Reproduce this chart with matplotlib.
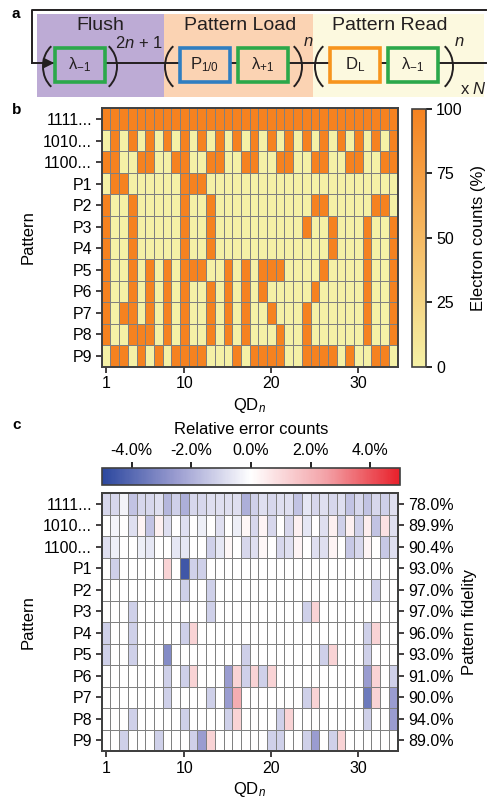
import numpy as np
import matplotlib
matplotlib.use('Agg')
import matplotlib.pyplot as plt
from matplotlib.colors import LinearSegmentedColormap
from matplotlib.patches import Rectangle, Arc

plt.rcParams['font.family'] = ['Liberation Sans', 'DejaVu Sans']
plt.rcParams['mathtext.fontset'] = 'custom'
plt.rcParams['mathtext.rm'] = 'Liberation Sans'
plt.rcParams['mathtext.it'] = 'Liberation Sans:italic'
plt.rcParams['font.size'] = 10

# ---- data ----
row_labels = ['1111...', '1010...', '1100...', 'P1', 'P2', 'P3', 'P4', 'P5', 'P6', 'P7', 'P8', 'P9']
qd_ticks = [1, 10, 20, 30]

# read-out patterns (1 = orange / electron, 0 = yellow), QD1..QD34
patterns = [
    "1111111111111111111111111111111111",
    "0101010101010101010101010101010101",
    "1100110011001100110011001100110011",
    "0110000001" "1100000000" "0000000000" "0000",
    "1001000001" "0010000000" "0000110000" "0110",
    "1001000001" "0010000000" "0001001000" "1001",
    "1001000001" "0010000000" "0000001000" "1001",
    "1001010101" "1100101011" "1000010000" "1001",
    "1001010101" "0010101010" "0000100000" "1001",
    "1011010101" "0010101001" "0001000000" "1001",
    "1001110101" "0010101000" "1001000000" "1001",
    "0110101011" "1100010111" "1001111010" "0110",
]

# relative error counts (%) per pattern; for P1..P9 only the non-zero QDs listed
err_1111 = [-1.0, -1.0, -0.3, -1.5, -1.0, -1.0, -0.8, -1.8, -1.2, -2.0, -1.0, -1.0, -0.8, -0.8, -0.8, -0.8, -2.0,
            -1.2, -0.8, -1.0, -0.8, -0.8, -1.5, -0.6, -1.0, -0.8, -1.0, -0.8, -1.5, -1.0, -1.5, -1.0, -1.2, -0.8]
err_1010 = [0.0, -0.3, 0.0, -0.8, 0.3, -1.5, 0.4, -0.8, 0.0, -0.8, 0.0, -0.4, 0.0, -0.8, 0.0, -0.4, 0.2,
            -1.0, 0.3, -1.0, 0.0, -1.0, 0.4, -0.6, 0.0, -0.8, 0.4, -1.2, 0.4, -1.2, 0.5, -1.5, 0.8, -0.8]
err_1100 = [-0.8, -0.4, 0.0, 0.0, -0.4, -0.6, 0.0, 0.0, -0.6, -0.6, 0.0, 0.0, -1.2, -0.6, 0.2, 0.0, -1.0,
            -0.8, 0.2, 0.0, -1.0, -0.8, 0.3, 0.0, -0.8, -0.8, 0.3, 0.0, -1.4, -1.0, 0.3, 0.0, -1.4, -0.8]
err_P = [
    {2: -1.2, 8: 1.2, 10: -4.5, 11: -1.2, 12: -1.2},
    {10: -1.2, 13: -1.2, 32: -1.2},
    {4: -1.2, 13: -1.2, 24: -1.2, 25: 1.2},
    {1: -1.2, 4: -1.2, 10: -1.2, 11: 1.2, 31: -1.2, 32: 1.2},
    {1: -1.2, 4: -1.2, 8: -3.0, 17: -1.2, 26: -1.2, 27: 1.2, 31: -1.2},
    {8: -1.2, 10: -1.2, 11: 1.2, 15: -2.5, 16: 1.2, 17: -1.2, 18: 1.2, 19: -1.2, 20: 1.2, 31: -2.5, 32: 1.2, 34: -1.2},
    {8: -1.2, 13: -1.2, 15: -2.5, 16: 2.2, 24: -1.2, 25: 1.2, 31: -3.5, 32: 1.2, 34: -2.5},
    {4: -1.2, 10: -1.2, 15: -1.2, 16: 1.2, 21: -1.2, 22: 1.2, 31: -1.2, 34: -2.5},
    {3: -1.2, 7: -1.2, 11: -1.2, 12: -2.5, 13: 1.2, 20: -1.2, 21: -1.2, 24: -1.2, 25: -2.5, 27: -1.2, 28: 1.2},
]
fidelity = ['78.0%', '89.9%', '90.4%', '93.0%', '97.0%', '97.0%', '96.0%', '93.0%', '91.0%', '90.0%', '94.0%', '89.0%']

# ---- arrays ----
n_qd = len(patterns[0])
counts = np.array([[100.0 if c == '1' else 0.0 for c in p] for p in patterns])
errors = np.zeros((len(patterns), n_qd))
errors[0] = err_1111
errors[1] = err_1010
errors[2] = err_1100
for i, d in enumerate(err_P):
    for q, v in d.items():
        errors[3 + i, q - 1] = v

W, H = 487, 800
fig = plt.figure(figsize=(W / 100, H / 100), dpi=100)


def box(x0, y0, x1, y1):
    # pixel box -> figure fraction
    return [x0 / W, 1 - y1 / H, (x1 - x0) / W, (y1 - y0) / H]


# ---------------- panel a : schematic ----------------
axa = fig.add_axes([0, 1 - 100 / H, 1, 100 / H])
axa.set_xlim(0, W)
axa.set_ylim(100, 0)
axa.axis('off')

lc = '#231f20'
regions = [(37, 164, '#BDABD5', 'Flush', 100),
           (164, 313, '#FBD3B3', 'Pattern Load', 240),
           (313, 484, '#FCF9DF', 'Pattern Read', 390)]
for x0, x1, col, title, xc in regions:
    axa.add_patch(Rectangle((x0, 14), x1 - x0, 83, facecolor=col, edgecolor='none', zorder=0))
    axa.text(xc, 26, title, ha='center', va='center', fontsize=14, color=lc)

axa.plot([32, 32, 486], [63, 10, 10], color=lc, lw=1.4, zorder=1)
axa.plot([32, 486], [63, 63], color=lc, lw=1.4, zorder=1)
axa.annotate('', xy=(57, 63), xytext=(40, 63),
             arrowprops=dict(arrowstyle='-|>', color=lc, lw=1.4, mutation_scale=15), zorder=2)

boxes = [(55, '#2BA84A', 'λ$_{-1}$', '#BDABD5'),
         (180, '#2F7EC1', 'P$_{1/0}$', '#FBD3B3'),
         (238, '#2BA84A', 'λ$_{+1}$', '#FBD3B3'),
         (330, '#F7941D', 'D$_{\\mathrm{L}}$', '#FCF9DF'),
         (388, '#2BA84A', 'λ$_{-1}$', '#FCF9DF')]
for x0, ec, lab, fc in boxes:
    axa.add_patch(Rectangle((x0, 48), 50, 34, facecolor=fc, edgecolor=ec, lw=2.6, zorder=3))
    axa.text(x0 + 25, 65, lab, ha='center', va='center', fontsize=12, color=lc, zorder=4)

# brackets drawn as thin arcs: (outer x, side)
for xp, side in [(43, 'l'), (117, 'r'), (165, 'l'), (302, 'r'), (315, 'l'), (453, 'r')]:
    if side == 'l':
        axa.add_patch(Arc((xp + 20, 66.5), 40, 50, theta1=120, theta2=240, color=lc, lw=1.4, zorder=4))
    else:
        axa.add_patch(Arc((xp - 20, 66.5), 40, 50, theta1=-60, theta2=60, color=lc, lw=1.4, zorder=4))
axa.text(139, 43, '2$n$ + 1', ha='center', va='center', fontsize=12, color=lc)
axa.text(308, 42, '$n$', ha='center', va='center', fontsize=12, color=lc)
axa.text(459, 42, '$n$', ha='center', va='center', fontsize=12, color=lc)
axa.text(473, 89, 'x $N$', ha='center', va='center', fontsize=12, color=lc)

# panel letters
fig.text(12 / W, 1 - 14 / H, 'a', fontweight='bold', fontsize=11, va='center')
fig.text(12 / W, 1 - 110 / H, 'b', fontweight='bold', fontsize=11, va='center')
fig.text(12 / W, 1 - 425 / H, 'c', fontweight='bold', fontsize=11, va='center')

xe = np.arange(n_qd + 1) + 0.5
ye = np.arange(len(patterns) + 1) - 0.5
edge = '#808080'
spine_c = '#404040'
fs_tick = 11.5


def style_heat(ax):
    ax.set_xlim(0.5, n_qd + 0.5)
    ax.set_ylim(len(patterns) - 0.5, -0.5)
    ax.set_xticks(qd_ticks)
    ax.set_yticks(range(len(row_labels)))
    ax.set_yticklabels(row_labels)
    ax.tick_params(direction='out', length=4, width=1.2, labelsize=fs_tick, color=lc, pad=3)
    for s in ax.spines.values():
        s.set_color(spine_c)
        s.set_linewidth(1.4)
    ax.set_xlabel('QD$_n$', fontsize=12, labelpad=3)
    ax.set_ylabel('Pattern', fontsize=12, labelpad=5)


# ---------------- panel b ----------------
cmap_b = LinearSegmentedColormap.from_list('yo', ['#F5F1A6', '#F58220'])
axb = fig.add_axes(box(101.7, 108.3, 397.5, 366.7))
mb = axb.pcolormesh(xe, ye, counts, cmap=cmap_b, vmin=0, vmax=100, edgecolors=edge, linewidth=0.6)
style_heat(axb)

caxb = fig.add_axes(box(412.3, 109, 425.7, 366.7))
cbb = fig.colorbar(mb, cax=caxb, ticks=[0, 25, 50, 75, 100])
cbb.set_label('Electron counts (%)', fontsize=12, labelpad=6)
cbb.outline.set_edgecolor(spine_c)
cbb.outline.set_linewidth(1.2)
caxb.tick_params(direction='out', length=4, width=1.2, labelsize=fs_tick)

# ---------------- panel c ----------------
cmap_c = LinearSegmentedColormap.from_list('bwr2', ['#2B479E', '#9A9CD0', '#FFFFFF', '#F3A3A8', '#E8202A'])
caxc = fig.add_axes(box(101.7, 468, 400, 485))
axc = fig.add_axes(box(101.7, 493, 397.5, 751))
mc = axc.pcolormesh(xe, ye, errors, cmap=cmap_c, vmin=-5, vmax=5, edgecolors=edge, linewidth=0.6)
style_heat(axc)

cbc = fig.colorbar(mc, cax=caxc, orientation='horizontal', ticks=[-4, -2, 0, 2, 4])
caxc.xaxis.set_ticks_position('top')
caxc.xaxis.set_label_position('top')
caxc.set_xticklabels(['-4.0%', '-2.0%', '0.0%', '2.0%', '4.0%'])
cbc.set_label('Relative error counts', fontsize=12, labelpad=6)
cbc.outline.set_edgecolor(spine_c)
cbc.outline.set_linewidth(1.2)
caxc.tick_params(direction='out', length=4, width=1.2, labelsize=fs_tick)

axr = axc.twinx()
axr.set_ylim(len(patterns) - 0.5, -0.5)
axr.set_yticks(range(len(fidelity)))
axr.set_yticklabels(fidelity)
axr.tick_params(direction='out', length=4, width=1.2, labelsize=fs_tick, color=lc)
axr.set_ylabel('Pattern fidelity', fontsize=12, labelpad=6)
for s in axr.spines.values():
    s.set_color(spine_c)
    s.set_linewidth(1.4)

fig.savefig('out.png', dpi=100)
